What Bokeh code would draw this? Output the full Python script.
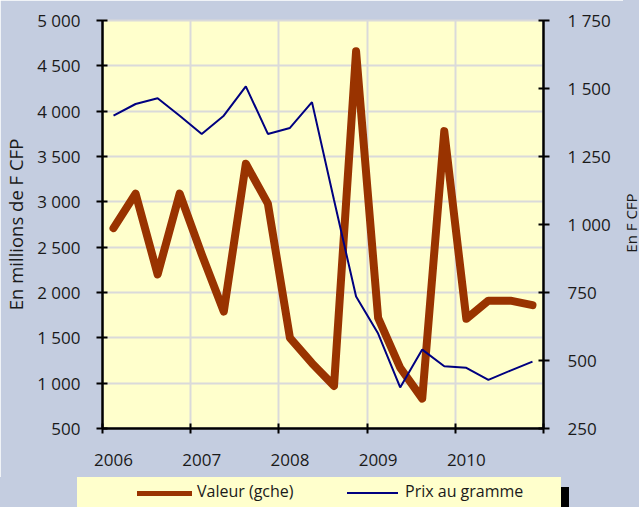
from bokeh.plotting import figure
from bokeh.layouts import column, row
from bokeh.models import Range1d, LinearAxis, FixedTicker, Div
from bokeh.embed import file_html
from bokeh.resources import INLINE

# ---- data ----
quarters_x = [2006.125, 2006.375, 2006.625, 2006.875,
              2007.125, 2007.375, 2007.625, 2007.875,
              2008.125, 2008.375, 2008.625, 2008.875,
              2009.125, 2009.375, 2009.625, 2009.875,
              2010.125, 2010.375, 2010.625, 2010.875]
valeur = [2710, 3090, 2200, 3090,
          2420, 1790, 3420, 2980,
          1500, 1220, 970, 4660,
          1720, 1170, 830, 3780,
          1710, 1910, 1910, 1860]
prix = [1400, 1443, 1464, 1400,
        1333, 1400, 1508, 1333,
        1355, 1450, 1090, 735,
        599, 401, 540, 479,
        473, 429, 463, 496]
years = [2006, 2007, 2008, 2009, 2010]
year_labels = ["2006", "2007", "2008", "2009", "2010"]
left_ticks = [500, 1000, 1500, 2000, 2500, 3000, 3500, 4000, 4500, 5000]
left_labels = ["500", "1 000", "1 500", "2 000", "2 500", "3 000", "3 500", "4 000", "4 500", "5 000"]
right_ticks = [250, 500, 750, 1000, 1250, 1500, 1750]
right_labels = ["250", "500", "750", "1 000", "1 250", "1 500", "1 750"]
series_names = ["Valeur (gche)", "Prix au gramme"]
left_title = "En millions de F CFP"
right_title = "En F CFP"

BG = "#C4CDE0"
PLOT_BG = "#FFFFCC"
GRID = "#DADADA"
BROWN = "#993300"
NAVY = "#000080"
TXT = "#1a1a1a"
FONT = "Open Sans"

p = figure(width=623, height=477, output_backend="svg", toolbar_location=None,
           title=None, x_range=Range1d(2006, 2011), y_range=Range1d(500, 5000),
           min_border_left=102, min_border_right=80, min_border_top=20,
           min_border_bottom=49)
p.background_fill_color = PLOT_BG
p.border_fill_color = BG
p.outline_line_color = GRID
p.outline_line_width = 2
p.extra_y_ranges = {"prix": Range1d(250, 1750)}

# grids
p.xgrid.ticker = FixedTicker(ticks=years[1:])
p.ygrid.ticker = FixedTicker(ticks=left_ticks)
for g in (p.xgrid, p.ygrid):
    g.grid_line_color = GRID
    g.grid_line_width = 2

# x axis: labels at first-quarter positions, tick marks at year boundaries
label_pos = quarters_x[0::4]
xa = p.xaxis[0]
xa.ticker = FixedTicker(ticks=label_pos, minor_ticks=years + [2011])
xa.major_label_overrides = {lp: lab for lp, lab in zip(label_pos, year_labels)}
xa.major_tick_line_color = None
xa.major_tick_in = 0
xa.major_tick_out = 5
xa.minor_tick_line_color = "black"
xa.minor_tick_line_width = 2
xa.minor_tick_in = 5
xa.minor_tick_out = 5
xa.major_label_standoff = 20

ya = p.yaxis[0]
ya.ticker = FixedTicker(ticks=left_ticks)
ya.major_label_overrides = {t: s for t, s in zip(left_ticks, left_labels)}
ya.minor_tick_line_color = None
ya.major_tick_in = 5
ya.major_tick_out = 6
ya.major_tick_line_width = 2
ya.major_label_standoff = 16
ya.axis_label = left_title
ya.axis_label_standoff = 6
ya.axis_label_text_font_size = "18.5px"

ra = LinearAxis(y_range_name="prix", ticker=FixedTicker(ticks=right_ticks))
ra.major_label_overrides = {t: s for t, s in zip(right_ticks, right_labels)}
ra.minor_tick_line_color = None
ra.major_tick_in = 5
ra.major_tick_out = 6
ra.major_tick_line_width = 2
ra.major_label_standoff = 18
p.add_layout(ra, "right")

for ax in (xa, ya, ra):
    ax.axis_line_color = "black"
    ax.axis_line_width = 2.5
    ax.major_label_text_font = FONT
    ax.major_label_text_font_size = "17px"
    ax.major_label_text_color = TXT
    ax.axis_label_text_font = FONT
    ax.axis_label_text_font_style = "normal"
    ax.axis_label_text_color = TXT

# series
p.line(quarters_x, valeur, line_color=BROWN, line_width=8,
       line_join="round", line_cap="round")
p.line(quarters_x, prix, y_range_name="prix", line_color=NAVY, line_width=2)

# ---- right axis title (HTML, real text, rotated) ----
right_html = (
    f'<div style="position:relative;width:16px;height:477px;'
    f'background:{BG};font-family:\'{FONT}\';font-size:15px;color:{TXT};">'
    f'<div style="position:absolute;left:7.5px;top:223px;white-space:nowrap;'
    f'line-height:15px;transform:translate(-50%,-50%) rotate(-90deg);">'
    f'{right_title}</div></div>'
)
right_div = Div(text=right_html, width=16, height=477, margin=0)

# ---- legend strip (HTML, real text) ----
def swatch(left, top, w, h, color):
    return (f'<div style="position:absolute;left:{left}px;top:{top}px;'
            f'width:{w}px;height:{h}px;background:{color};"></div>')

def lab(left, text):
    return (f'<div style="position:absolute;left:{left}px;top:3px;'
            f'line-height:22px;white-space:nowrap;">{text}</div>')

legend_html = (
    f'<div style="position:relative;width:639px;height:30px;overflow:hidden;'
    f'background:{BG};font-family:\'{FONT}\';font-size:16px;color:{TXT};">'
    + swatch(561, 10, 8, 30, "black")
    + swatch(77, 0, 484, 40, PLOT_BG)
    + swatch(137, 14, 55, 5, BROWN)
    + lab(197, series_names[0])
    + swatch(347, 15, 51, 2, NAVY)
    + lab(405, series_names[1])
    + '</div>'
)
legend_div = Div(text=legend_html, width=639, height=30, margin=0)

layout = column(row(p, right_div, spacing=0), legend_div, spacing=0)
open("out.html", "w").write(file_html(layout, INLINE))
